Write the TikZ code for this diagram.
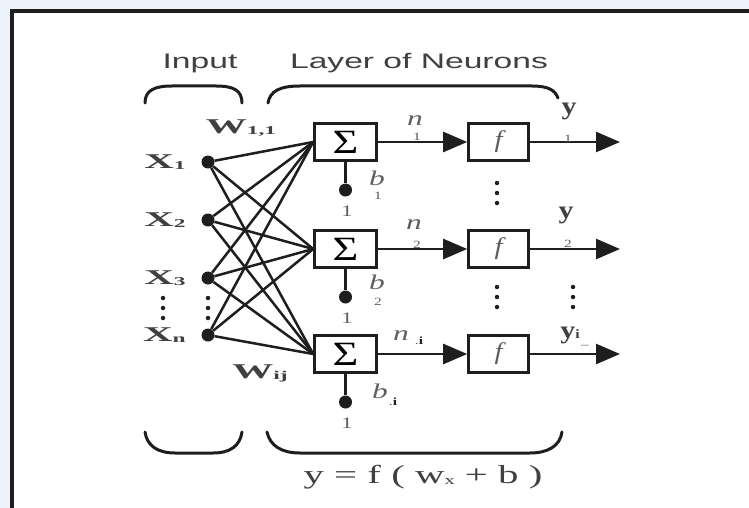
\documentclass[tikz,border=0pt]{standalone}
\usepackage{fontspec}
\setmainfont{Liberation Serif}
\setsansfont{Liberation Sans}
\usepackage{tikz}
\usetikzlibrary{arrows.meta,positioning,calc}
\definecolor{ink}{RGB}{30,30,30}
\definecolor{softgray}{RGB}{95,95,95}
\definecolor{paleblue}{RGB}{236,243,251}

\begin{document}
\begin{tikzpicture}[
  x=1pt, y=-1pt,
  neuron/.style={draw=ink, line width=2.6pt, fill=white, minimum width=62pt, minimum height=37pt, inner sep=0pt},
  actbox/.style={draw=ink, line width=2.6pt, fill=white, minimum width=60pt, minimum height=37pt, inner sep=0pt},
  inputdot/.style={circle, fill=ink, minimum size=13pt, inner sep=0pt},
  biasdot/.style={circle, fill=ink, minimum size=13pt, inner sep=0pt},
  smalldot/.style={circle, fill=ink, minimum size=4.5pt, inner sep=0pt},
  weight/.style={line width=2.5pt, ink},
  signal/.style={line width=2.5pt, ink, -{Triangle[length=24pt,width=20pt]}},
  brace/.style={line width=3pt, ink, line cap=round},
  headtext/.style={font=\sffamily\fontsize{21}{21}\selectfont, text=ink!85, xscale=1.6, inner sep=0pt},
  xlabel/.style={font=\bfseries\fontsize{21}{21}\selectfont, text=ink!85, xscale=1.95, inner sep=0pt},
  italbl/.style={font=\itshape\fontsize{21}{21}\selectfont, text=softgray, xscale=1.5, inner sep=0pt},
  sublbl/.style={font=\fontsize{11}{11}\selectfont, text=softgray, xscale=1.4, inner sep=0pt},
  outlbl/.style={font=\bfseries\fontsize{25}{25}\selectfont, text=ink!85, xscale=1.2, inner sep=0pt},
  onelbl/.style={font=\fontsize{16}{16}\selectfont, text=softgray, xscale=1.4, inner sep=0pt},
  formula/.style={font=\fontsize{26}{26}\selectfont, text=ink!85, xscale=1.57, inner sep=0pt}
]
\useasboundingbox (0,0) rectangle (749,508);
\clip (0,0) rectangle (749,508);

% Page background and frame
\fill[paleblue] (0,0) rectangle (749,508);
\draw[line width=3.5pt, ink, fill=white] (12,11) rectangle (770,530);

% Headings and braces
\node[headtext] (input) at (200,63) {Input};
\node[headtext] (layer) at (419,63) {Layer of Neurons};
\draw[brace] (145,103) .. controls (145,90) and (155,86) .. (172,86) -- (216,86) .. controls (233,86) and (242,90) .. (242,103);
\draw[brace] (268,103) .. controls (270,91) and (280,86) .. (300,86) -- (532,86) .. controls (548,86) and (555,90) .. (558,98);
\draw[brace] (145,432) .. controls (147,446) and (158,453) .. (175,453) -- (213,453) .. controls (230,453) and (240,446) .. (242,432);
\draw[brace] (267,432) .. controls (270,446) and (282,453) .. (300,453) -- (530,453) .. controls (548,453) and (560,446) .. (562,432);

% Inputs
\foreach \name/\ypos/\sub in {x1/162/1, x2/220/2, x3/278/3, xn/335/n} {
  \node[inputdot] (\name) at (208,\ypos) {};
  \node[xlabel, anchor=east] (\name-lbl) at (186,\ypos) {X\raisebox{-1pt}{\fontsize{12}{12}\selectfont\sub}};
}

% Neurons
\foreach \k/\ypos in {1/142, 2/249, 3/354} {
  \node[neuron] (s\k) at (345.5,\ypos) {\fontsize{34}{34}\selectfont\scalebox{1.3}[1]{Σ}};
  \node[actbox] (f\k) at (498.5,\ypos) {\color{softgray}\fontsize{24}{24}\selectfont\scalebox{1.2}[1]{\itshape f}};
  \coordinate (o\k) at (620,\ypos);
  \node[biasdot] (b\k) at (345.5,\ypos+48) {};
  \node[onelbl] (one\k) at (347,\ypos+69) {1};
}

% Weights
\foreach \i in {x1,x2,x3,xn}
  \foreach \j in {s1,s2,s3}
    \draw[weight] (\i) -- (\j.west);

% Signals and bias lines
\foreach \k in {1,2,3} {
  \draw[signal] (s\k.east) -- (f\k.west);
  \draw[signal] (f\k.east) -- (o\k);
  \draw[line width=2.5pt, ink] (s\k.south) -- (b\k);
}

% Weight labels
\node[xlabel] (w11) at (241,128) {W\raisebox{-1pt}{\fontsize{12}{12}\selectfont 1,1}};
\node[xlabel] (wij) at (260,373) {W\raisebox{-1pt}{\fontsize{12}{12}\selectfont ij}};

% Bias, net input and output labels
\node[italbl] (bl1) at (377,178) {b};
\node[sublbl] (bs1) at (378,196) {1};
\node[italbl] (bl2) at (377,282) {b};
\node[sublbl] (bs2) at (378,302) {2};
\node[italbl] (bl3) at (380,391) {b};
\node[sublbl] (bs3) at (393,402) {.\textcolor{ink}{\bfseries i}};
\node[italbl] (nl1) at (415,121) {n};
\node[sublbl] (ns1) at (417,137) {1};
\node[italbl] (nl2) at (414,225) {n};
\node[sublbl] (ns2) at (417,245) {2};
\node[italbl] (nl3) at (401,336) {n};
\node[sublbl] (ns3) at (419,341) {.\textcolor{ink}{\bfseries i}};
\node[outlbl] (yl1) at (569,111) {y};
\node[sublbl] (ys1) at (568,139) {1};
\node[outlbl] (yl2) at (566,215) {y};
\node[sublbl] (ys2) at (568,244) {2};
\node[outlbl] (yl3) at (570,335) {y\raisebox{0pt}{\fontsize{13}{13}\selectfont i}};
\node[sublbl] (ys3) at (585,345) {\_};

% Vertical dots
\foreach \xpos/\ytop in {163/298, 208/298, 497/183, 497/287, 573/287}
  \foreach \d in {0,10,20}
    \node[smalldot] at (\xpos,\ytop+\d) {};

% Transfer function
\node[formula] (eq) at (423,477) {y = f ( w\raisebox{-1pt}{\fontsize{13}{13}\selectfont x} + b )};
\end{tikzpicture}
\end{document}
